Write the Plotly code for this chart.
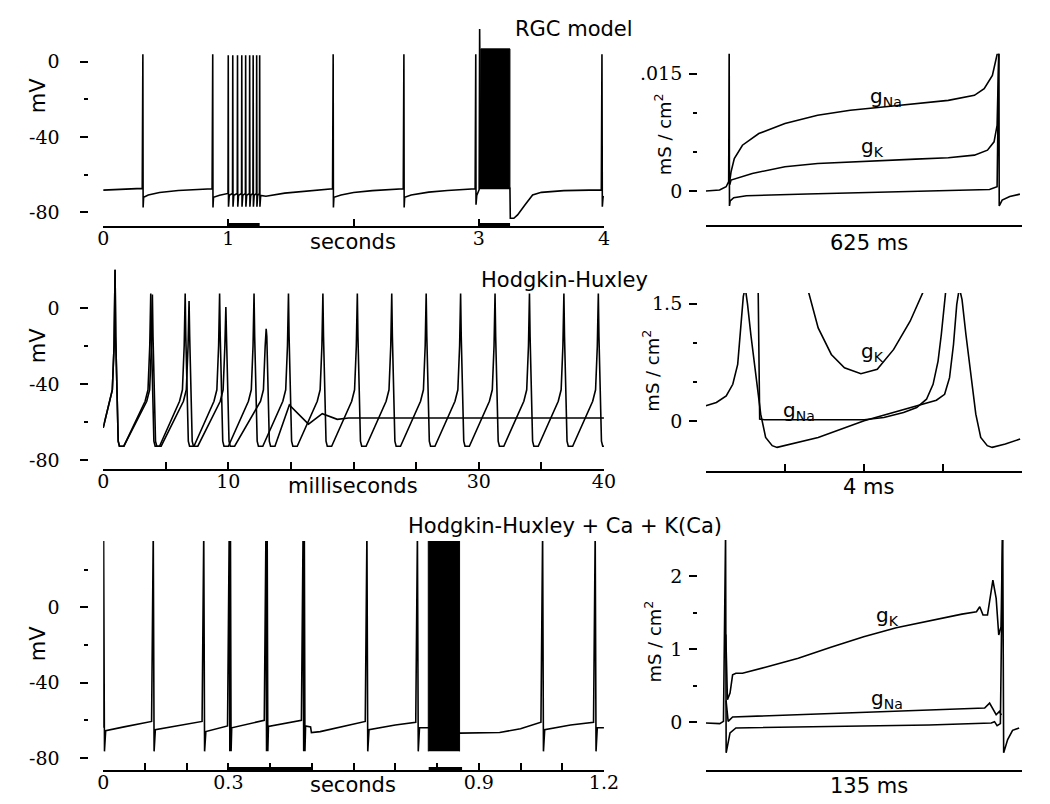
import plotly.graph_objects as go

W, H = 1050, 804

# ------------------------------------------------------------------ data
# Panel 1 : RGC model, membrane potential (seconds, mV)
rgc_pre_t = [0.000, 0.312, 0.317, 0.319, 0.323, 0.360, 0.450, 0.600, 0.870, 0.875, 0.877, 0.881, 0.930, 0.994]
rgc_pre_v = [-68.2, -67.3, 4.0, -77.5, -72.0, -70.8, -69.5, -68.4, -67.5, 4.0, -77.5, -72.0, -71.0, -70.0]
rgc_burst_times = [0.999, 1.035, 1.073, 1.107, 1.138, 1.170, 1.198, 1.226, 1.250]
rgc_burst_peaks = [3.5, 3.5, 3.5, 3.5, 3.5, 3.5, 3.5, 3.5, 3.5]
rgc_burst_dt = [-0.002, 0.0, 0.002, 0.008]
rgc_burst_dv = [-70.0, None, -77.0, -71.0]
rgc_post_t = [1.300, 1.450, 1.600, 1.832, 1.837, 1.839, 1.843, 1.900, 2.000, 2.150, 2.397,
              2.402, 2.404, 2.408, 2.460, 2.600, 2.750, 2.971, 2.976, 2.978, 2.984, 3.003,
              3.007, 3.010, 3.016, 3.249, 3.252, 3.280, 3.310, 3.370, 3.430, 3.500, 3.680,
              3.979, 3.984, 3.987, 3.993, 4.000]
rgc_post_v = [-71.5, -69.8, -68.8, -67.5, 4.0, -77.5, -72.0, -70.8, -69.5, -68.5, -67.5,
              4.0, -77.5, -72.0, -70.8, -69.3, -68.4, -67.5, 4.0, -76.0, -71.0, -68.0,
              17.5, -67.0, -67.3, -67.3, -83.2, -83.2, -81.4, -76.0, -70.8, -69.4, -68.5,
              -68.1, 4.0, -77.0, -72.0, -71.5]
rgc_block_t = [3.016, 3.016, 3.249, 3.249]
rgc_block_v = [-67.3, 6.9, 6.9, -67.3]
rgc_stim_on = [1.0, 3.0]
rgc_stim_off = [1.25, 3.25]

# Panel 2 : RGC conductances over 625 ms (mS/cm2)
p2_na_t = [47.0, 49.7, 56.1, 72.2, 104.5, 156.1, 220.6, 285.1, 349.6, 414.1, 478.6, 530.2, 549.5, 565.7, 575.3, 578.6]
p2_na_v = [0.0012, 0.00246, 0.00416, 0.00586, 0.00735, 0.00863, 0.00969, 0.01033, 0.01075, 0.01117, 0.0116,
           0.01224, 0.01309, 0.01479, 0.01734, 0.0185]
p2_k_t = [47.0, 49.7, 91.6, 156.1, 220.6, 285.1, 349.6, 414.1, 478.6, 530.2, 556.0, 569.0, 575.0, 578.6]
p2_k_v = [0.0008, 0.0014, 0.00225, 0.0031, 0.00353, 0.00374, 0.00395, 0.00408, 0.00425, 0.00459, 0.00523,
          0.00629, 0.00841, 0.0185]
p2_o_t = [0.0, 27.0, 40.0, 45.0, 46.0, 46.6, 48.0, 55.0, 80.0, 200.0, 400.0, 560.0, 575.0, 578.6, 579.2,
          585.0, 600.0, 620.0]
p2_o_v = [0.0, 0.00013, 0.00055, 0.0012, 0.0185, -0.0019, -0.00127, -0.00085, -0.0006, -0.00038, -0.00008,
          0.0002, 0.00055, 0.0185, -0.0019, -0.00115, -0.0007, -0.0004]

# Panel 3 : Hodgkin-Huxley (ms, mV)
hh_spike_dt = [-0.45, -0.22, -0.08, 0.0, 0.05, 0.15, 0.25, 0.35, 0.70]
hh_spike_dv = [-49.0, -43.0, -20.0, None, -15.0, -50.0, -70.0, -72.6, -72.6]
hh_start_v = -63.0
hh_a_times = [0.95, 3.80, 6.55, 9.30, 12.05, 14.80, 17.55, 20.30, 23.05, 25.80, 28.55, 31.30, 34.05, 36.80, 39.55]
hh_a_peaks = [20.0, 7.5, 7.5, 7.5, 7.5, 7.5, 7.5, 7.5, 7.5, 7.5, 7.5, 7.5, 7.5, 7.5, 7.5]
hh_b_times = [0.95, 3.93, 6.86, 9.80, 13.02]
hh_b_peaks = [20.0, 7.0, 3.6, 0.5, -11.0]
hh_b_tail_t = [14.87, 16.4, 17.5, 18.7, 19.6, 40.0]
hh_b_tail_v = [-51.0, -61.0, -55.5, -58.5, -57.8, -57.8]

# Panel 4 : HH conductances over 4 ms
p4_v_t = [0, 0.133, 0.257, 0.340, 0.402, 0.444, 0.473, 0.498, 0.527, 0.568, 0.631, 0.693, 0.755, 0.838, 0.900,
          1.419, 2.0, 2.456, 2.747, 2.913, 3.017, 3.079, 3.129, 3.170, 3.203, 3.237, 3.286, 3.349, 3.411, 3.473,
          3.556, 3.618, 3.784, 3.971]
p4_v_v = [0.199, 0.241, 0.325, 0.473, 0.727, 1.191, 1.593, 1.70, 1.487, 1.107, 0.558, 0.093, -0.203, -0.308, -0.330,
          -0.203, 0.008, 0.135, 0.220, 0.270, 0.346, 0.558, 0.980, 1.487, 1.70, 1.550, 1.107, 0.558, 0.093, -0.203,
          -0.308, -0.330, -0.287, -0.224]
p4_na_t = [0.660, 0.680, 0.743, 2.0, 2.249, 2.498, 2.664, 2.788, 2.871, 2.934, 2.975, 3.008, 3.04]
p4_na_v = [1.75, 0.03, 0.021, 0.021, 0.051, 0.114, 0.177, 0.283, 0.473, 0.769, 1.107, 1.445, 1.75]
p4_k_t = [1.27, 1.419, 1.585, 1.751, 1.959, 2.166, 2.373, 2.581, 2.79]
p4_k_v = [1.75, 1.191, 0.853, 0.684, 0.608, 0.663, 0.917, 1.276, 1.75]

# Panel 5 : Hodgkin-Huxley + Ca + K(Ca) (seconds, mV)
ca_t = [0.000, 0.001, 0.003, 0.006, 0.050, 0.116,
        0.120, 0.122, 0.125, 0.180, 0.237,
        0.241, 0.243, 0.246, 0.298,
        0.302, 0.3035, 0.305, 0.3065, 0.308, 0.386,
        0.390, 0.3915, 0.393, 0.3945, 0.396, 0.475,
        0.479, 0.4805, 0.482, 0.4835, 0.485, 0.497, 0.499, 0.520, 0.628,
        0.632, 0.634, 0.637, 0.700, 0.749,
        0.753, 0.755, 0.758, 0.779, 0.854, 0.856, 0.950, 1.000, 1.049,
        1.053, 1.055, 1.058, 1.120, 1.175,
        1.179, 1.181, 1.184, 1.200]
ca_v = [-64.0, 40, -76.5, -65.5, -63.5, -60.6,
        40, -76.5, -65.0, -63.0, -60.6,
        40, -76.5, -66.0, -63.0,
        40, -76.5, 40, -76.5, -64.0, -60.0,
        40, -76.5, 40, -76.5, -63.3, -60.0,
        40, -76.5, 40, -76.5, -63.0, -63.5, -66.5, -66.0, -60.6,
        40, -76.5, -65.0, -62.5, -61.0,
        40, -76.5, -64.0, -64.0, -66.8, -66.8, -66.5, -64.5, -61.0,
        40, -76.5, -65.0, -62.5, -61.0,
        40, -76.5, -64.0, -64.0]
ca_block_t = [0.779, 0.779, 0.854, 0.854]
ca_block_v = [-76.5, 40, 40, -76.5]
ca_stim_on = [0.30, 0.78]
ca_stim_off = [0.50, 0.86]

# Panel 6 : HH+Ca conductances over 135 ms
p6_o_t = [0, 5.9, 7.5, 8.4, 8.65, 10.3, 12.8, 53.3, 95.2, 121.7, 123.1, 124.2, 125.6, 126.6, 127.0, 128.7, 130.8, 133.6]
p6_o_v = [-0.009, -0.018, 0.014, 2.6, -0.417, -0.145, -0.077, -0.054, -0.036, -0.009, 0.009, -0.045, -0.018, 2.6,
          -0.417, -0.236, -0.109, -0.077]
p6_k_t = [8.5, 9.2, 10.3, 11.4, 12.8, 15.6, 25.4, 39.4, 53.3, 67.3, 81.2, 95.2, 109.2, 115.4, 116.8, 118.2, 120.1,
          122.4, 123.8, 124.9, 125.9, 126.5]
p6_k_v = [1.2, 0.308, 0.40, 0.649, 0.671, 0.671, 0.753, 0.875, 1.025, 1.170, 1.293, 1.388, 1.478, 1.510, 1.578,
          1.465, 1.465, 1.941, 1.692, 1.193, 1.306, 2.6]
p6_na_t = [8.6, 9.5, 11.4, 39.4, 81.2, 118.9, 121.0, 122.4, 123.8, 125.2, 126.0]
p6_na_v = [0.3, 0.014, 0.073, 0.104, 0.15, 0.195, 0.263, 0.172, 0.104, 0.15, 0.10]

# Tick values / labels
left1_xticks = [0, 1, 2, 3, 4]
left1_xtext = ["0", "1", "", "3", "4"]
left3_xticks = [0, 5, 10, 15, 20, 25, 30, 35, 40]
left3_xtext = ["0", "", "10", "", "", "", "30", "", "40"]
left5_xticks = [0, 0.1, 0.2, 0.3, 0.4, 0.5, 0.6, 0.7, 0.8, 0.9, 1.0, 1.1, 1.2]
left5_xtext = ["0", "", "", "0.3", "", "", "", "", "", "0.9", "", "", "1.2"]
mv_ticks = [0, -40, -80]
mv_text = ["0", "-40", "-80"]
mv_minor_1 = [-20, -60]
mv_minor_5 = [20, -20, -60]
p2_yticks = [0, 0.015]
p2_ytext = ["0", ".015"]
p2_yminor = [0.005, 0.010]
p4_yticks = [0, 1.5]
p4_ytext = ["0", "1.5"]
p4_yminor = [0.5, 1.0]
p6_yticks = [0, 1, 2]
p6_ytext = ["0", "1", "2"]
p6_yminor = [0.5, 1.5]


def train(times, peaks, dts, dvs):
    xs, ys = [], []
    for tp, pk in zip(times, peaks):
        for d, v in zip(dts, dvs):
            xs.append(tp + d)
            ys.append(pk if v is None else v)
    return xs, ys


# ------------------------------------------------------------------ figure
fig = go.Figure()
LW = 1.6
BLK = "black"


def line(x, y, i, w=LW):
    fig.add_trace(go.Scatter(x=x, y=y, mode="lines", line=dict(color=BLK, width=w),
                             xaxis="x" if i == 1 else f"x{i}", yaxis="y" if i == 1 else f"y{i}",
                             hoverinfo="skip", showlegend=False))


def block(x, y, i):
    fig.add_trace(go.Scatter(x=x, y=y, mode="lines", fill="toself", fillcolor=BLK,
                             line=dict(color=BLK, width=1),
                             xaxis="x" if i == 1 else f"x{i}", yaxis="y" if i == 1 else f"y{i}",
                             hoverinfo="skip", showlegend=False))


# panel 1
bx, by = train(rgc_burst_times, rgc_burst_peaks, rgc_burst_dt, rgc_burst_dv)
line(rgc_pre_t + bx + rgc_post_t, rgc_pre_v + by + rgc_post_v, 1)
block(rgc_block_t, rgc_block_v, 1)
# panel 2
line(p2_o_t, p2_o_v, 2)
line(p2_na_t, p2_na_v, 2)
line(p2_k_t, p2_k_v, 2)
# panel 3
ax_, ay_ = train(hh_a_times, hh_a_peaks, hh_spike_dt, hh_spike_dv)
line([0.0] + ax_, [hh_start_v] + ay_, 3)
bx_, by_ = train(hh_b_times, hh_b_peaks, hh_spike_dt, hh_spike_dv)
line([0.0] + bx_ + hh_b_tail_t, [hh_start_v] + by_ + hh_b_tail_v, 3)
# panel 4
line(p4_v_t, p4_v_v, 4)
line(p4_na_t, p4_na_v, 4)
line(p4_k_t, p4_k_v, 4)
# panel 5
line(ca_t, ca_v, 5)
block(ca_block_t, ca_block_v, 5)
# panel 6
line(p6_o_t, p6_o_v, 6)
line(p6_na_t, p6_na_v, 6)
line(p6_k_t, p6_k_v, 6)


def fx(p):
    return p / W


def fy(p):
    return 1 - p / H


SERIF = "DejaVu Serif"
SANS = "DejaVu Sans"
LEFT = (91, 602)
RIGHT = (706, 1029)

panels = {
    1: dict(xd=LEFT, yd=(10, 218), xr=[0, 4], yr=[-87.4, 22.8], xt=left1_xticks, xtt=left1_xtext,
            yt=mv_ticks, ytt=mv_text, ym=mv_minor_1, ypos=75, side="L"),
    2: dict(xd=RIGHT, yd=(45, 217), xr=[0, 625], yr=[-0.00437, 0.01755], xt=[0, 625], xtt=["", ""],
            yt=p2_yticks, ytt=p2_ytext, ym=p2_yminor, ypos=697, side="R"),
    3: dict(xd=LEFT, yd=(256, 462), xr=[0, 40], yr=[-84.7, 23.0], xt=left3_xticks, xtt=left3_xtext,
            yt=mv_ticks, ytt=mv_text, ym=mv_minor_1, ypos=75, side="L"),
    4: dict(xd=RIGHT, yd=(285, 464), xr=[0, 4], yr=[-0.634, 1.636], xt=[0, 1, 2, 3, 4], xtt=[""] * 5,
            yt=p4_yticks, ytt=p4_ytext, ym=p4_yminor, ypos=697, side="R"),
    5: dict(xd=LEFT, yd=(534, 764), xr=[0, 1.2], yr=[-86.5, 35.3], xt=left5_xticks, xtt=left5_xtext,
            yt=mv_ticks, ytt=mv_text, ym=mv_minor_5, ypos=75, side="L"),
    6: dict(xd=RIGHT, yd=(533, 764), xr=[0, 135], yr=[-0.653, 2.49], xt=[0, 135], xtt=["", ""],
            yt=p6_yticks, ytt=p6_ytext, ym=p6_yminor, ypos=697, side="R"),
}

lay = {}
for i, p in panels.items():
    xn = "xaxis" if i == 1 else f"xaxis{i}"
    yn = "yaxis" if i == 1 else f"yaxis{i}"
    yref = "y" if i == 1 else f"y{i}"
    lay[xn] = dict(domain=[fx(p["xd"][0]), fx(p["xd"][1])], range=p["xr"], anchor=yref,
                   showgrid=False, zeroline=False, showline=True, linecolor=BLK, linewidth=2,
                   ticks="inside", ticklen=7, tickwidth=1.5, tickcolor=BLK,
                   tickmode="array", tickvals=p["xt"], ticktext=p["xtt"],
                   tickfont=dict(family=SERIF, size=19, color=BLK), ticklabelstandoff=-6)
    lay[yn] = dict(domain=[fy(p["yd"][1]), fy(p["yd"][0])], range=p["yr"], anchor="free",
                   position=fx(p["ypos"]), showgrid=False, zeroline=False, showline=False,
                   ticks="outside", ticklen=8, tickwidth=1.5, tickcolor=BLK,
                   tickmode="array", tickvals=p["yt"], ticktext=p["ytt"],
                   minor=dict(tickvals=p["ym"], ticks="outside", ticklen=4, tickwidth=1.5, tickcolor=BLK),
                   tickfont=dict(family=SERIF, size=19, color=BLK),
                   ticklabelstandoff=16 if p["side"] == "L" else 3)

# stimulus bars on the time axes
shapes = []
for on, off in zip(rgc_stim_on, rgc_stim_off):
    shapes.append(dict(type="line", xref="x", yref="y domain", x0=on, x1=off, y0=0.006, y1=0.006,
                       line=dict(color=BLK, width=4)))
for on, off in zip(ca_stim_on, ca_stim_off):
    shapes.append(dict(type="line", xref="x5", yref="y5 domain", x0=on, x1=off, y0=0.0055, y1=0.0055,
                       line=dict(color=BLK, width=4)))

ann = []


def text(t, x, y, size=21, family=SANS, angle=0, xanchor="center"):
    ann.append(dict(text=t, x=fx(x), y=fy(y), xref="paper", yref="paper", showarrow=False,
                    xanchor=xanchor, yanchor="middle", textangle=angle,
                    font=dict(family=family, size=size, color=BLK)))


text("RGC model", 571, 20)
text("Hodgkin-Huxley", 562, 272)
text("Hodgkin-Huxley + Ca + K(Ca)", 562, 519)
text("seconds", 346, 234)
text("milliseconds", 346, 479)
text("seconds", 346, 779)
text("625 ms", 872, 235)
text("4 ms", 872, 480)
text("135 ms", 872, 780)
for yy in (87, 338, 637):
    text("mV", 24, yy, angle=-90)
text("mS / cm<sup>2</sup>", 662, 126, size=18, angle=-90)
text("mS / cm<sup>2</sup>", 650, 363, size=18, angle=-90)
text("mS / cm<sup>2</sup>", 652, 635, size=18, angle=-90)
text("g<sub>Na</sub>", 871, 88, size=20, xanchor="left")
text("g<sub>K</sub>", 862, 139, size=20, xanchor="left")
text("g<sub>K</sub>", 862, 344, size=20, xanchor="left")
text("g<sub>Na</sub>", 783, 404, size=20, xanchor="left")
text("g<sub>K</sub>", 878, 609, size=20, xanchor="left")
text("g<sub>Na</sub>", 872, 693, size=20, xanchor="left")

fig.update_layout(width=W, height=H, margin=dict(l=0, r=0, t=0, b=0),
                  paper_bgcolor="white", plot_bgcolor="white",
                  showlegend=False, shapes=shapes, annotations=ann, **lay)

fig.write_html("out.html")
